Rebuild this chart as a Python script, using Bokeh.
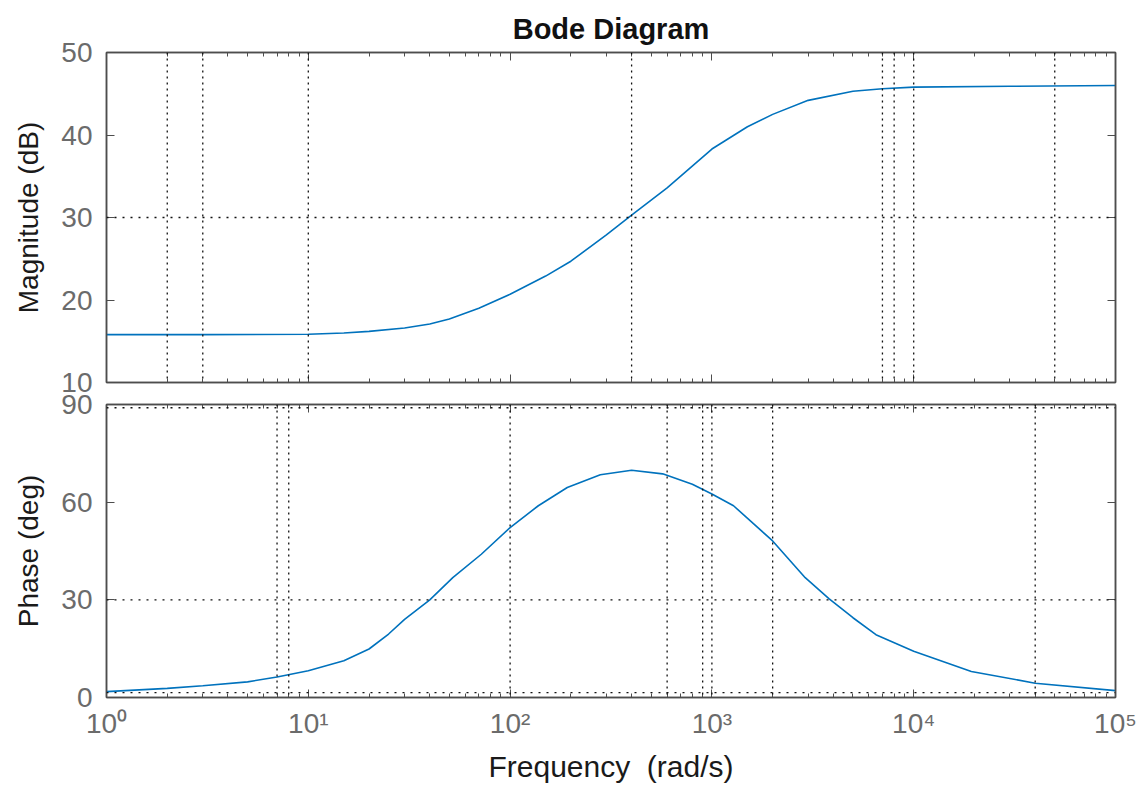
from bokeh.plotting import figure
from bokeh.layouts import column
from bokeh.models import Span, FixedTicker, LinearAxis, LogAxis, Range1d
from bokeh.embed import file_html
from bokeh.resources import INLINE

# ---------------- data ----------------
freq_mag = [1, 3, 10, 15, 20, 30, 40, 50, 70, 100, 150, 200, 300, 400, 600,
            1000, 1500, 2000, 3000, 5000, 7000, 10000, 30000, 100000]
mag_db = [15.8, 15.8, 15.85, 16.0, 16.2, 16.6, 17.1, 17.7, 19.0, 20.7, 22.9, 24.7,
          27.9, 30.3, 33.6, 38.3, 41.0, 42.5, 44.2, 45.3, 45.6, 45.8, 45.9, 46.0]

freq_ph = [1, 2, 3, 5, 7, 10, 15, 20, 25, 30, 40, 52, 72, 100, 138, 192, 280, 400,
           570, 800, 1000, 1280, 2000, 2900, 3800, 5000, 6500, 10000, 19300, 40000, 100000]
phase_deg = [1.8, 2.8, 3.6, 4.8, 6.3, 8.2, 11.3, 14.9, 19.5, 24.0, 30.0, 36.8, 44.0, 52.2,
             58.9, 64.5, 68.4, 69.8, 68.7, 65.5, 62.5, 58.9, 48.1, 36.8, 30.4, 24.5, 19.3,
             14.2, 8.0, 4.4, 2.1]

x_ticks = [1, 10, 100, 1000, 10000, 100000]
x_tick_labels = ["10⁰", "10¹", "10²", "10³", "10⁴", "10⁵"]
x_minor = [m * d for d in [1, 10, 100, 1000, 10000] for m in range(2, 10)]
mag_ticks = [10, 20, 30, 40, 50]
phase_ticks = [0, 30, 60, 90]

mag_vgrid = [2, 3, 10, 400, 7000, 8000, 10000, 50000]
mag_hgrid = [30]
phase_vgrid = [7, 8, 100, 600, 900, 1000, 2000, 40000]
phase_hgrid = [1.5, 30, 89]

FONT = "Liberation Sans"
LINE_COLOR = "#0072BD"
AX_COLOR = "#4d4d4d"


def style_axis(ax, show_labels=True):
    ax.axis_line_color = AX_COLOR
    ax.axis_line_width = 1.5
    ax.major_tick_in = 8
    ax.major_tick_out = 0
    ax.minor_tick_in = 4
    ax.minor_tick_out = 0
    ax.major_tick_line_color = AX_COLOR
    ax.minor_tick_line_color = AX_COLOR
    ax.major_label_text_font = FONT
    ax.major_label_text_font_size = "28px"
    ax.major_label_text_color = "#6b6b6b"
    ax.axis_label_text_font = FONT
    ax.axis_label_text_font_size = "28px"
    ax.axis_label_text_font_style = "normal"
    ax.axis_label_text_color = "#1a1a1a"
    if not show_labels:
        ax.major_label_text_font_size = "1px"
        ax.major_label_text_alpha = 0
        ax.major_label_standoff = 0


def make_fig(height, yr, yticks, top, bottom, show_x_labels):
    p = figure(width=1146, height=height, x_axis_type="log",
               x_range=Range1d(1, 1e5), y_range=Range1d(*yr),
               output_backend="svg", toolbar_location=None,
               min_border_left=106, min_border_right=31,
               min_border_top=top, min_border_bottom=bottom)
    p.grid.visible = False
    p.outline_line_color = AX_COLOR
    p.outline_line_width = 1.5
    p.background_fill_color = "white"
    p.border_fill_alpha = 0
    xb = p.below[0]
    yl = p.left[0]
    xb.ticker = FixedTicker(ticks=x_ticks, minor_ticks=x_minor)
    yl.ticker = FixedTicker(ticks=yticks, minor_ticks=[])
    xb.major_label_overrides = {t: l for t, l in zip(x_ticks, x_tick_labels)}
    style_axis(xb, show_x_labels)
    style_axis(yl)
    xb.major_label_standoff = 10 if show_x_labels else 0
    yl.major_label_standoff = 14
    yl.axis_label_standoff = 14
    ax_top = LogAxis(ticker=FixedTicker(ticks=x_ticks, minor_ticks=x_minor))
    ax_right = LinearAxis(ticker=FixedTicker(ticks=yticks, minor_ticks=[]))
    style_axis(ax_top, False)
    style_axis(ax_right, False)
    p.add_layout(ax_top, "above")
    p.add_layout(ax_right, "right")
    return p, xb, yl


def add_grid(p, vgrid, hgrid):
    for v in vgrid:
        p.add_layout(Span(location=v, dimension="height", line_color="#111111",
                          line_width=1.3, line_dash="2 4"))
    for h in hgrid:
        p.add_layout(Span(location=h, dimension="width", line_color="#111111",
                          line_width=1.3, line_dash="2 6"))


# ---- magnitude ----
p1, xb1, yl1 = make_fig(405, (10, 50), mag_ticks, 52, 23, False)
p1.title.text = "Bode Diagram"
p1.title.align = "center"
p1.title.text_font = FONT
p1.title.text_font_size = "29px"
p1.title.text_font_style = "bold"
p1.title.text_color = "#111111"
p1.title.standoff = 15
yl1.axis_label = "Magnitude (dB)"
add_grid(p1, mag_vgrid, mag_hgrid)
p1.line(freq_mag, mag_db, line_color=LINE_COLOR, line_width=1.6)

# ---- phase ----
p2, xb2, yl2 = make_fig(401, (0, 90), phase_ticks, 18, 90, True)
p2.margin = (-19, 0, 0, 0)
yl2.axis_label = "Phase (deg)"
xb2.axis_label = "Frequency \u00a0(rad/s)"
xb2.axis_label_text_font_size = "30px"
xb2.axis_label_standoff = 8
add_grid(p2, phase_vgrid, phase_hgrid)
p2.line(freq_ph, phase_deg, line_color=LINE_COLOR, line_width=1.6)

layout = column(p1, p2, spacing=0)
open("out.html", "w").write(file_html(layout, INLINE))
